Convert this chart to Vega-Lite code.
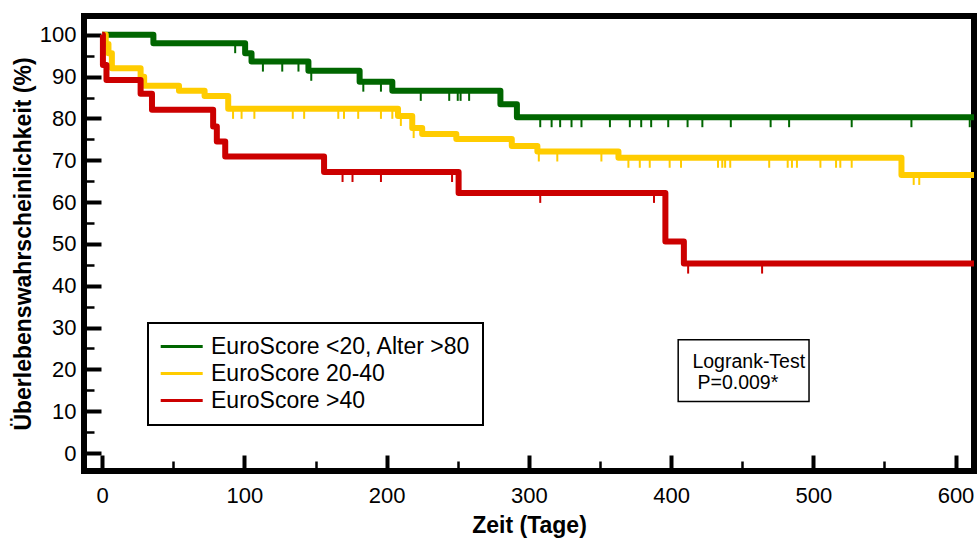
{
  "$schema": "https://vega.github.io/schema/vega-lite/v6.json",
  "width": 890,
  "height": 455,
  "autosize": {"type": "none"},
  "padding": {"left": 84, "top": 16, "right": 4, "bottom": 67},
  "background": "white",
  "config": {
    "view": {"stroke": "black", "strokeWidth": 6},
    "font": "Liberation Sans",
    "legend": {"strokeWidth": 2},
    "axis": {
      "domain": false,
      "grid": false,
      "tickColor": "black",
      "labelColor": "black",
      "titleColor": "black",
      "labelFont": "Liberation Sans",
      "titleFont": "Liberation Sans",
      "labelFontSize": 22,
      "titleFontSize": 23,
      "titleFontWeight": "bold"
    }
  },
  "datasets": {
    "km": [
      {"g": "EuroScore <20, Alter >80", "t": 0, "s": 100},
      {"g": "EuroScore <20, Alter >80", "t": 36, "s": 98.0},
      {"g": "EuroScore <20, Alter >80", "t": 100.5, "s": 95.6},
      {"g": "EuroScore <20, Alter >80", "t": 105, "s": 93.6},
      {"g": "EuroScore <20, Alter >80", "t": 145, "s": 91.4},
      {"g": "EuroScore <20, Alter >80", "t": 181, "s": 88.8},
      {"g": "EuroScore <20, Alter >80", "t": 204, "s": 86.6},
      {"g": "EuroScore <20, Alter >80", "t": 280, "s": 83.4},
      {"g": "EuroScore <20, Alter >80", "t": 291.6, "s": 80.3},
      {"g": "EuroScore <20, Alter >80", "t": 613, "s": 80.3},
      {"g": "EuroScore 20-40", "t": 0, "s": 100},
      {"g": "EuroScore 20-40", "t": 2.5, "s": 97.8},
      {"g": "EuroScore 20-40", "t": 4.4, "s": 95.6},
      {"g": "EuroScore 20-40", "t": 6.8, "s": 92.0},
      {"g": "EuroScore 20-40", "t": 27, "s": 90.0},
      {"g": "EuroScore 20-40", "t": 29.5, "s": 87.8},
      {"g": "EuroScore 20-40", "t": 54, "s": 86.6},
      {"g": "EuroScore 20-40", "t": 72, "s": 85.4},
      {"g": "EuroScore 20-40", "t": 88.6, "s": 82.3},
      {"g": "EuroScore 20-40", "t": 208, "s": 80.6},
      {"g": "EuroScore 20-40", "t": 218, "s": 77.7},
      {"g": "EuroScore 20-40", "t": 225, "s": 76.3},
      {"g": "EuroScore 20-40", "t": 249, "s": 75.1},
      {"g": "EuroScore 20-40", "t": 288, "s": 73.4},
      {"g": "EuroScore 20-40", "t": 306, "s": 72.1},
      {"g": "EuroScore 20-40", "t": 363, "s": 70.6},
      {"g": "EuroScore 20-40", "t": 562, "s": 66.5},
      {"g": "EuroScore 20-40", "t": 613, "s": 66.5},
      {"g": "EuroScore >40", "t": 0, "s": 100},
      {"g": "EuroScore >40", "t": 0.5, "s": 92.8},
      {"g": "EuroScore >40", "t": 3, "s": 89.2},
      {"g": "EuroScore >40", "t": 27, "s": 85.9},
      {"g": "EuroScore >40", "t": 35, "s": 82.1},
      {"g": "EuroScore >40", "t": 78, "s": 78.1},
      {"g": "EuroScore >40", "t": 80.6, "s": 74.5},
      {"g": "EuroScore >40", "t": 86.5, "s": 70.9},
      {"g": "EuroScore >40", "t": 156, "s": 67.2},
      {"g": "EuroScore >40", "t": 250.6, "s": 62.2},
      {"g": "EuroScore >40", "t": 396, "s": 50.6},
      {"g": "EuroScore >40", "t": 409, "s": 45.3},
      {"g": "EuroScore >40", "t": 613, "s": 45.3}
    ],
    "censored": [
      {"g": "EuroScore <20, Alter >80", "t": 93.5, "s": 98.0},
      {"g": "EuroScore <20, Alter >80", "t": 113, "s": 93.6},
      {"g": "EuroScore <20, Alter >80", "t": 126.6, "s": 93.6},
      {"g": "EuroScore <20, Alter >80", "t": 138, "s": 93.6},
      {"g": "EuroScore <20, Alter >80", "t": 147, "s": 91.4},
      {"g": "EuroScore <20, Alter >80", "t": 183.6, "s": 88.8},
      {"g": "EuroScore <20, Alter >80", "t": 196, "s": 88.8},
      {"g": "EuroScore <20, Alter >80", "t": 224, "s": 86.6},
      {"g": "EuroScore <20, Alter >80", "t": 244, "s": 86.6},
      {"g": "EuroScore <20, Alter >80", "t": 250, "s": 86.6},
      {"g": "EuroScore <20, Alter >80", "t": 252, "s": 86.6},
      {"g": "EuroScore <20, Alter >80", "t": 258, "s": 86.6},
      {"g": "EuroScore <20, Alter >80", "t": 308, "s": 80.3},
      {"g": "EuroScore <20, Alter >80", "t": 316, "s": 80.3},
      {"g": "EuroScore <20, Alter >80", "t": 322, "s": 80.3},
      {"g": "EuroScore <20, Alter >80", "t": 330, "s": 80.3},
      {"g": "EuroScore <20, Alter >80", "t": 337, "s": 80.3},
      {"g": "EuroScore <20, Alter >80", "t": 357, "s": 80.3},
      {"g": "EuroScore <20, Alter >80", "t": 371, "s": 80.3},
      {"g": "EuroScore <20, Alter >80", "t": 379, "s": 80.3},
      {"g": "EuroScore <20, Alter >80", "t": 386, "s": 80.3},
      {"g": "EuroScore <20, Alter >80", "t": 398, "s": 80.3},
      {"g": "EuroScore <20, Alter >80", "t": 411.6, "s": 80.3},
      {"g": "EuroScore <20, Alter >80", "t": 422, "s": 80.3},
      {"g": "EuroScore <20, Alter >80", "t": 442, "s": 80.3},
      {"g": "EuroScore <20, Alter >80", "t": 470, "s": 80.3},
      {"g": "EuroScore <20, Alter >80", "t": 483, "s": 80.3},
      {"g": "EuroScore <20, Alter >80", "t": 527, "s": 80.3},
      {"g": "EuroScore <20, Alter >80", "t": 569, "s": 80.3},
      {"g": "EuroScore <20, Alter >80", "t": 610, "s": 80.3},
      {"g": "EuroScore 20-40", "t": 92, "s": 82.3},
      {"g": "EuroScore 20-40", "t": 98, "s": 82.3},
      {"g": "EuroScore 20-40", "t": 107, "s": 82.3},
      {"g": "EuroScore 20-40", "t": 134, "s": 82.3},
      {"g": "EuroScore 20-40", "t": 142, "s": 82.3},
      {"g": "EuroScore 20-40", "t": 166, "s": 82.3},
      {"g": "EuroScore 20-40", "t": 170, "s": 82.3},
      {"g": "EuroScore 20-40", "t": 180, "s": 82.3},
      {"g": "EuroScore 20-40", "t": 196, "s": 82.3},
      {"g": "EuroScore 20-40", "t": 204, "s": 82.3},
      {"g": "EuroScore 20-40", "t": 210, "s": 80.6},
      {"g": "EuroScore 20-40", "t": 219, "s": 77.7},
      {"g": "EuroScore 20-40", "t": 307, "s": 72.1},
      {"g": "EuroScore 20-40", "t": 320, "s": 72.1},
      {"g": "EuroScore 20-40", "t": 351, "s": 72.1},
      {"g": "EuroScore 20-40", "t": 370, "s": 70.6},
      {"g": "EuroScore 20-40", "t": 378, "s": 70.6},
      {"g": "EuroScore 20-40", "t": 385, "s": 70.6},
      {"g": "EuroScore 20-40", "t": 399, "s": 70.6},
      {"g": "EuroScore 20-40", "t": 407, "s": 70.6},
      {"g": "EuroScore 20-40", "t": 433, "s": 70.6},
      {"g": "EuroScore 20-40", "t": 436, "s": 70.6},
      {"g": "EuroScore 20-40", "t": 438, "s": 70.6},
      {"g": "EuroScore 20-40", "t": 441.6, "s": 70.6},
      {"g": "EuroScore 20-40", "t": 469, "s": 70.6},
      {"g": "EuroScore 20-40", "t": 482, "s": 70.6},
      {"g": "EuroScore 20-40", "t": 485, "s": 70.6},
      {"g": "EuroScore 20-40", "t": 488.5, "s": 70.6},
      {"g": "EuroScore 20-40", "t": 505, "s": 70.6},
      {"g": "EuroScore 20-40", "t": 516, "s": 70.6},
      {"g": "EuroScore 20-40", "t": 519, "s": 70.6},
      {"g": "EuroScore 20-40", "t": 527, "s": 70.6},
      {"g": "EuroScore 20-40", "t": 570.6, "s": 66.5},
      {"g": "EuroScore 20-40", "t": 574.5, "s": 66.5},
      {"g": "EuroScore >40", "t": 169, "s": 67.2},
      {"g": "EuroScore >40", "t": 176, "s": 67.2},
      {"g": "EuroScore >40", "t": 196, "s": 67.2},
      {"g": "EuroScore >40", "t": 246, "s": 67.2},
      {"g": "EuroScore >40", "t": 308, "s": 62.2},
      {"g": "EuroScore >40", "t": 388, "s": 62.2},
      {"g": "EuroScore >40", "t": 412, "s": 45.3},
      {"g": "EuroScore >40", "t": 464, "s": 45.3}
    ],
    "testbox": [
      {"t1": 405, "t2": 497, "s1": 12.3, "s2": 27.1}
    ],
    "testtext": [
      {"t": 415, "s": 21.8, "label": "Logrank-Test"},
      {"t": 418.6, "s": 16.8, "label": "P=0.009*"}
    ]
  },
  "layer": [
    {
      "data": {"name": "km"},
      "mark": {"type": "line", "interpolate": "step-after", "strokeWidth": 6, "strokeJoin": "round", "opacity": 1, "clip": false},
      "encoding": {
        "x": {
          "field": "t",
          "type": "quantitative",
          "scale": {"domain": [-12.8, 613], "nice": false, "zero": false},
          "axis": {
            "orient": "bottom",
            "values": [0, 100, 200, 300, 400, 500, 600],
            "tickSize": -16,
            "tickWidth": 4,
            "labelPadding": 30,
            "title": "Zeit (Tage)",
            "titlePadding": 8
          }
        },
        "y": {
          "field": "s",
          "type": "quantitative",
          "scale": {"domain": [-4.3, 104.5], "nice": false, "zero": false},
          "axis": {
            "orient": "left",
            "values": [0, 10, 20, 30, 40, 50, 60, 70, 80, 90, 100],
            "tickSize": -17,
            "tickWidth": 4,
            "labelPadding": 25,
            "title": "Überlebenswahrscheinlichkeit (%)",
            "titlePadding": 4
          }
        },
        "color": {
          "field": "g",
          "type": "nominal",
          "scale": {
            "domain": ["EuroScore <20, Alter >80", "EuroScore 20-40", "EuroScore >40"],
            "range": ["#006600", "#FFCC00", "#CC0000"]
          },
          "legend": {
            "orient": "none",
            "legendX": 64,
            "legendY": 307,
            "title": null,
            "fillColor": "white",
            "strokeColor": "black",
            "padding": 12,
            "symbolType": "M-1.8,0H5.2",
            "symbolSize": 144,
            "symbolStrokeWidth": 3,
            "symbolOpacity": 1,
            "labelFont": "Liberation Sans",
            "labelFontSize": 23,
            "labelColor": "black",
            "labelOffset": 28,
            "labelLimit": 400,
            "rowPadding": 3
          }
        }
      }
    },
    {
      "data": {"name": "censored"},
      "mark": {"type": "tick", "orient": "vertical", "size": 10, "thickness": 2, "yOffset": 5, "opacity": 1},
      "encoding": {
        "x": {
          "field": "t",
          "type": "quantitative",
          "axis": {
            "orient": "bottom",
            "values": [50, 150, 250, 350, 450, 550],
            "tickSize": -10,
            "tickWidth": 2.5,
            "labels": false,
            "title": null
          }
        },
        "y": {
          "field": "s",
          "type": "quantitative",
          "axis": {
            "orient": "left",
            "values": [5, 15, 25, 35, 45, 55, 65, 75, 85, 95],
            "tickSize": -10,
            "tickWidth": 2.5,
            "labels": false,
            "title": null
          }
        },
        "color": {"field": "g", "type": "nominal"}
      }
    },
    {
      "data": {"name": "testbox"},
      "mark": {"type": "rect", "fill": "white", "stroke": "black", "strokeWidth": 1.5},
      "encoding": {
        "x": {"field": "t1", "type": "quantitative", "axis": null},
        "x2": {"field": "t2"},
        "y": {"field": "s1", "type": "quantitative", "axis": null},
        "y2": {"field": "s2"}
      }
    },
    {
      "data": {"name": "testtext"},
      "mark": {"type": "text", "align": "left", "baseline": "middle", "font": "Liberation Sans", "fontSize": 19.5, "color": "black"},
      "encoding": {
        "x": {"field": "t", "type": "quantitative", "axis": null},
        "y": {"field": "s", "type": "quantitative", "axis": null},
        "text": {"field": "label"}
      }
    }
  ],
  "resolve": {"axis": {"x": "independent", "y": "independent"}}
}
